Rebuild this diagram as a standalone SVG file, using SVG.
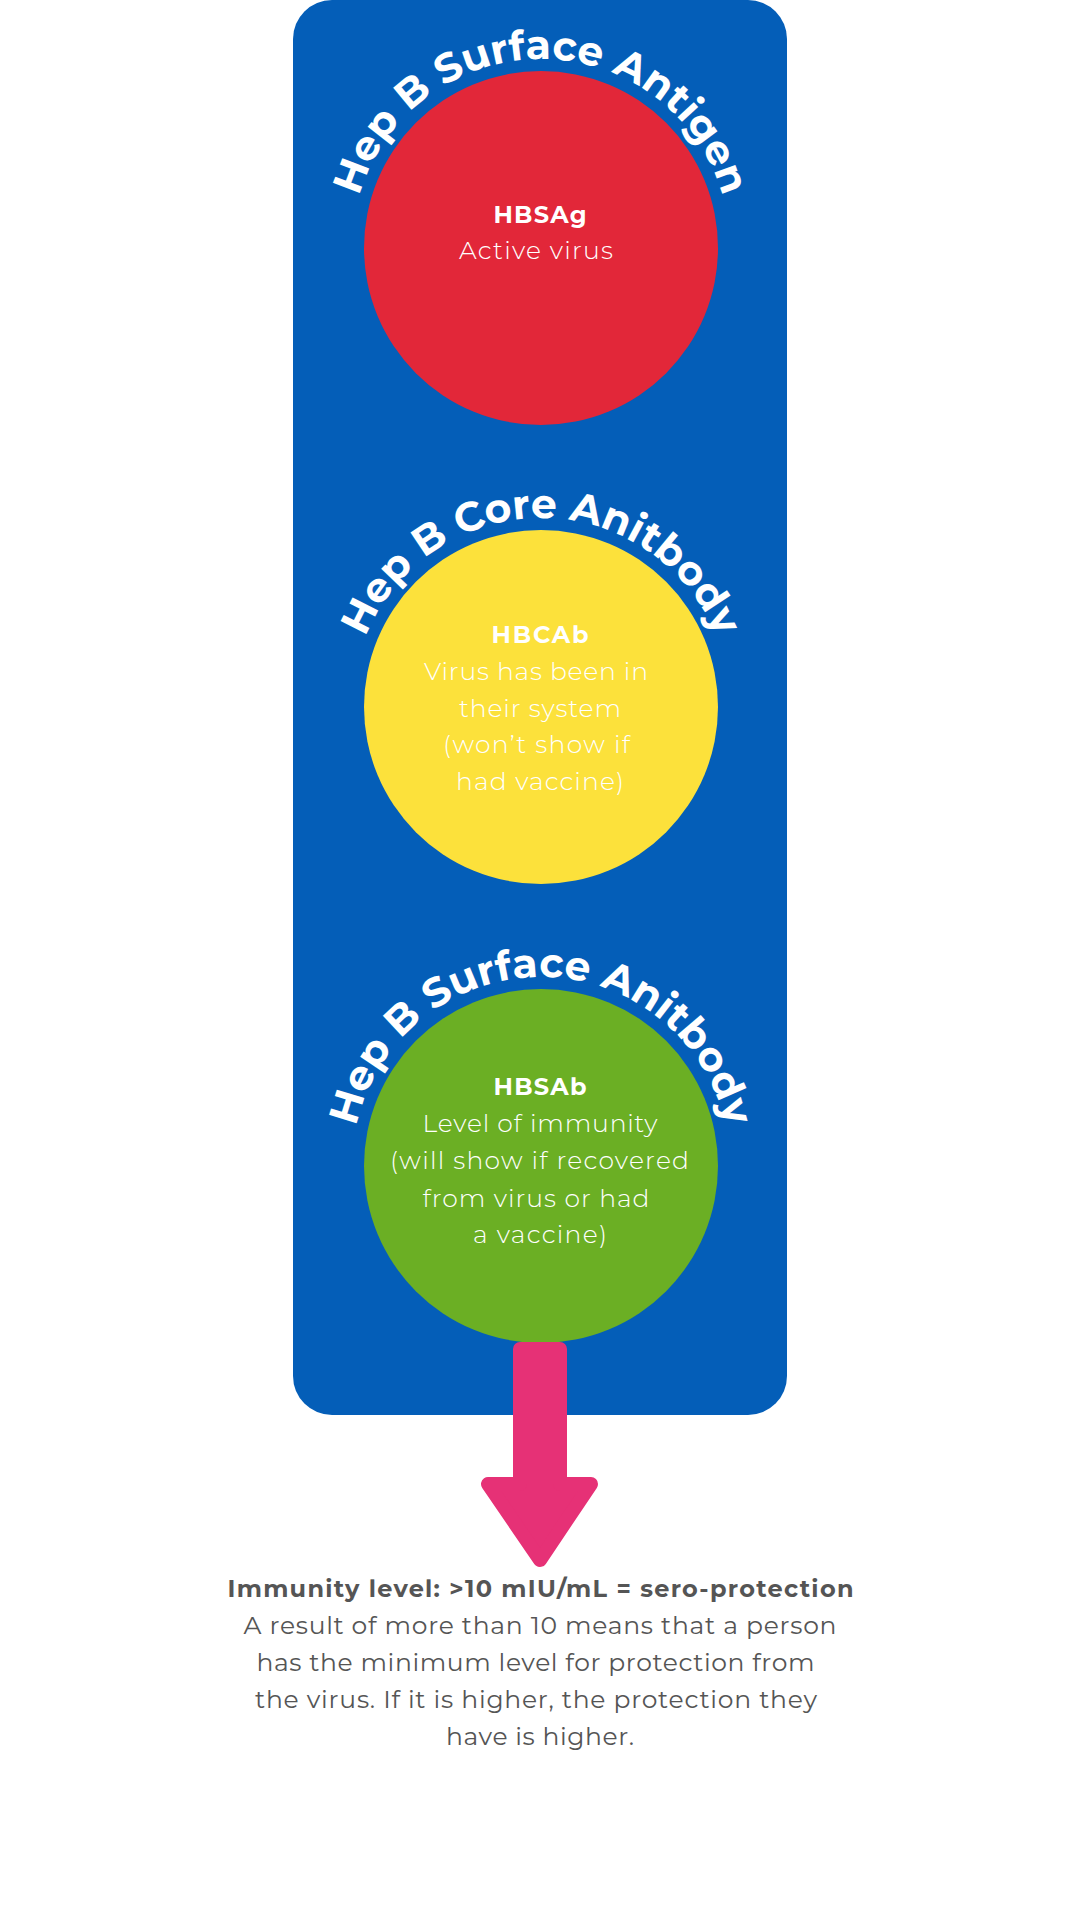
<svg xmlns="http://www.w3.org/2000/svg" width="1080" height="1920" viewBox="0 0 1080 1920">
<defs>
<style>
.title{font-family:"Montserrat","Open Sans","Liberation Sans",sans-serif;font-weight:700;font-size:41px;fill:#ffffff}
.hd{font-family:"Montserrat","Open Sans","Liberation Sans",sans-serif;font-weight:700;font-size:24px;fill:#ffffff;text-anchor:middle}
.bd{font-family:"Montserrat","Open Sans","Liberation Sans",sans-serif;font-weight:300;font-size:25px;fill:#ffffff;text-anchor:middle}
.cb{font-family:"Montserrat","Open Sans","Liberation Sans",sans-serif;font-weight:700;font-size:24px;fill:#555555;text-anchor:middle}
.cr{font-family:"Montserrat","Open Sans","Liberation Sans",sans-serif;font-weight:400;font-size:25px;fill:#555555;text-anchor:middle}
</style>
<path id="arc1" d="M 352 248 A 189 189 0 0 1 730 248"/>
<path id="arc2" d="M 352 707 A 189 189 0 0 1 730 707"/>
<path id="arc3" d="M 352 1166 A 189 189 0 0 1 730 1166"/>
</defs>
<rect id="panel" x="293" y="0" width="494" height="1415" rx="39" ry="39" fill="#045EB8"/>
<g id="node-hbsag">
<circle cx="541" cy="248" r="177" fill="#E22739"/>
<text class="title"><textPath href="#arc1" startOffset="50%" text-anchor="middle">Hep B Surface Antigen</textPath></text>
<text class="hd" x="540" y="223" textLength="93">HBSAg</text>
<text class="bd" x="536" y="259" textLength="154">Active virus</text>
</g>
<g id="node-hbcab">
<circle cx="541" cy="707" r="177" fill="#FCE13B"/>
<text class="title"><textPath href="#arc2" startOffset="50%" text-anchor="middle">Hep B Core Anitbody</textPath></text>
<text class="hd" x="540" y="643" textLength="97">HBCAb</text>
<text class="bd" x="536" y="680" textLength="224">Virus has been in</text>
<text class="bd" x="540" y="717" textLength="162">their system</text>
<text class="bd" x="536.5" y="753" textLength="187">(won’t show if</text>
<text class="bd" x="540" y="790" textLength="168">had vaccine)</text>
</g>
<g id="node-hbsab">
<circle cx="541" cy="1166" r="177" fill="#6BAF24"/>
<text class="title"><textPath href="#arc3" startOffset="50%" text-anchor="middle">Hep B Surface Anitbody</textPath></text>
<text class="hd" x="540" y="1095" textLength="93">HBSAb</text>
<text class="bd" x="540" y="1132" textLength="235">Level of immunity</text>
<text class="bd" x="539.5" y="1169" textLength="299">(will show if recovered</text>
<text class="bd" x="536" y="1207" textLength="227">from virus or had</text>
<text class="bd" x="540" y="1243" textLength="134">a vaccine)</text>
</g>
<g id="connectors">
<path id="arrow" d="M520 1349 H560 V1484 H591 L540 1560 L488 1484 H520 Z" fill="#E63176" stroke="#E63176" stroke-width="14" stroke-linejoin="round"/>
</g>
<g id="node-result">
<text class="cb" x="540.5" y="1597" textLength="626">Immunity level: &gt;10 mIU/mL = sero-protection</text>
<text class="cr" x="540" y="1634" textLength="593">A result of more than 10 means that a person</text>
<text class="cr" x="535.5" y="1671" textLength="558">has the minimum level for protection from</text>
<text class="cr" x="536" y="1708" textLength="562">the virus. If it is higher, the protection they</text>
<text class="cr" x="540" y="1745" textLength="188">have is higher.</text>
</g>
</svg>
